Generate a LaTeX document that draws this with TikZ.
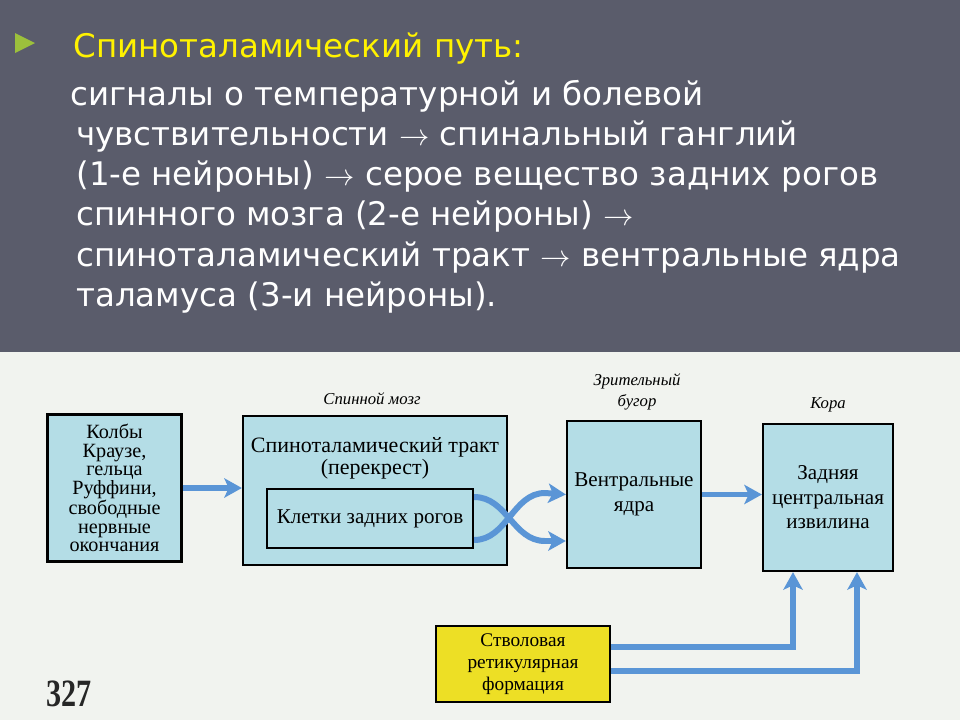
\documentclass[tikz,border=0pt]{standalone}
\usepackage{fontspec}
\setmainfont{Liberation Serif}
\newfontfamily\slidefont{DejaVu Sans}
\usetikzlibrary{arrows.meta}
\definecolor{slidegray}{HTML}{5A5C6B}
\definecolor{paper}{HTML}{F1F3EF}
\definecolor{boxcyan}{HTML}{B4DDE6}
\definecolor{flowblue}{HTML}{5A95D6}
\definecolor{retyellow}{HTML}{EDDF25}
\definecolor{bulletgreen}{HTML}{9CC03C}
\tikzset{
  box/.style={draw=black, line width=1.3pt, fill=boxcyan, align=center, inner sep=0pt},
  flow/.style={draw=flowblue, line width=3.4pt, -{Stealth[length=10pt,width=11pt,inset=2.5pt]}},
  regionlabel/.style={font=\itshape\fontsize{9.5}{12}\selectfont, align=center},
  slideline/.style={anchor=base west, text=white, inner sep=0pt,
    font=\slidefont\fontsize{18.5}{22}\selectfont},
}
\begin{document}
\begin{tikzpicture}[x=0.02cm, y=-0.02cm]
  \useasboundingbox (0,0) rectangle (960,720);
  \fill[slidegray] (0,0) rectangle (960,352);
  \fill[paper] (0,352) rectangle (960,720);
  % slide text
  \fill[bulletgreen] (15,33) -- (15,53) -- (35,43) -- cycle;
  \draw (73,57) node[slideline, text=yellow] (title) {Спиноталамический путь:}
        (70,105) node[slideline] (l1) {сигналы о температурной и болевой}
        (76,145) node[slideline] (l2) {чувствительности $\rightarrow$ спинальный ганглий}
        (76,185) node[slideline] (l3) {(1-е нейроны) $\rightarrow$ серое вещество задних рогов}
        (76,225) node[slideline] (l4) {спинного мозга (2-е нейроны) $\rightarrow$}
        (76,266) node[slideline] (l5) {спиноталамический тракт $\rightarrow$ вентральные ядра}
        (76,306) node[slideline] (l6) {таламуса (3-и нейроны).};
  % scheme
  \node[box, minimum width=2.68cm, minimum height=2.94cm,
        font=\fontsize{11.5}{10.5}\selectfont] (klb) at (114.5,488)
        {Колбы\\Краузе,\\гельца\\Руффини,\\свободные\\нервные\\окончания};
  \node[box, minimum width=5.28cm, minimum height=2.98cm] (spinal) at (375,490.5) {};
  \node[align=center, font=\fontsize{12.5}{12.5}\selectfont] (tract) at (375,458)
        {Спиноталамический тракт\\(перекрест)};
  \node[box, minimum width=4.12cm, minimum height=1.18cm,
        font=\fontsize{12}{14}\selectfont] (cells) at (370,518.5) {Клетки задних рогов};
  \node[box, minimum width=2.68cm, minimum height=2.94cm,
        font=\fontsize{12}{14}\selectfont] (vent) at (634,494.5) {Вентральные\\ядра};
  \node[box, minimum width=2.6cm, minimum height=2.94cm,
        font=\fontsize{12}{14}\selectfont] (cortex) at (828,497.5)
        {Задняя\\центральная\\извилина};
  \node[box, fill=retyellow, minimum width=3.48cm, minimum height=1.52cm,
        font=\fontsize{11}{12.5}\selectfont] (ret) at (523,664)
        {Стволовая\\ретикулярная\\формация};
  \node[regionlabel] (spinalcap) at (372,399) {Спинной мозг};
  \node[regionlabel] (ventcap) at (637,392) {Зрительный\\бугор};
  \node[regionlabel] (cortexcap) at (828,405) {Кора};
  \node[text=black!85, font=\bfseries\fontsize{22}{22}\selectfont] (page) at (69,694)
        {\scalebox{0.78}[1]{327}};
  % connectors
  \draw[flow] (klb.east) -- (klb.east -| spinal.west);
  \draw[flow] ([yshift=0.43cm]cells.east) .. controls (507,497) and (513,541) .. (545,541)
              -- ([yshift=-0.93cm]vent.west);
  \draw[flow] ([yshift=-0.43cm]cells.east) .. controls (507,540) and (513,493) .. (545,493)
              -- (vent.west);
  \draw[flow] (vent.east) -- (vent.east -| cortex.west);
  \draw[flow] ([yshift=0.34cm]ret.east) -| ([xshift=-0.7cm]cortex.south);
  \draw[flow] ([yshift=-0.14cm]ret.east) -| ([xshift=0.58cm]cortex.south);
\end{tikzpicture}
\end{document}
